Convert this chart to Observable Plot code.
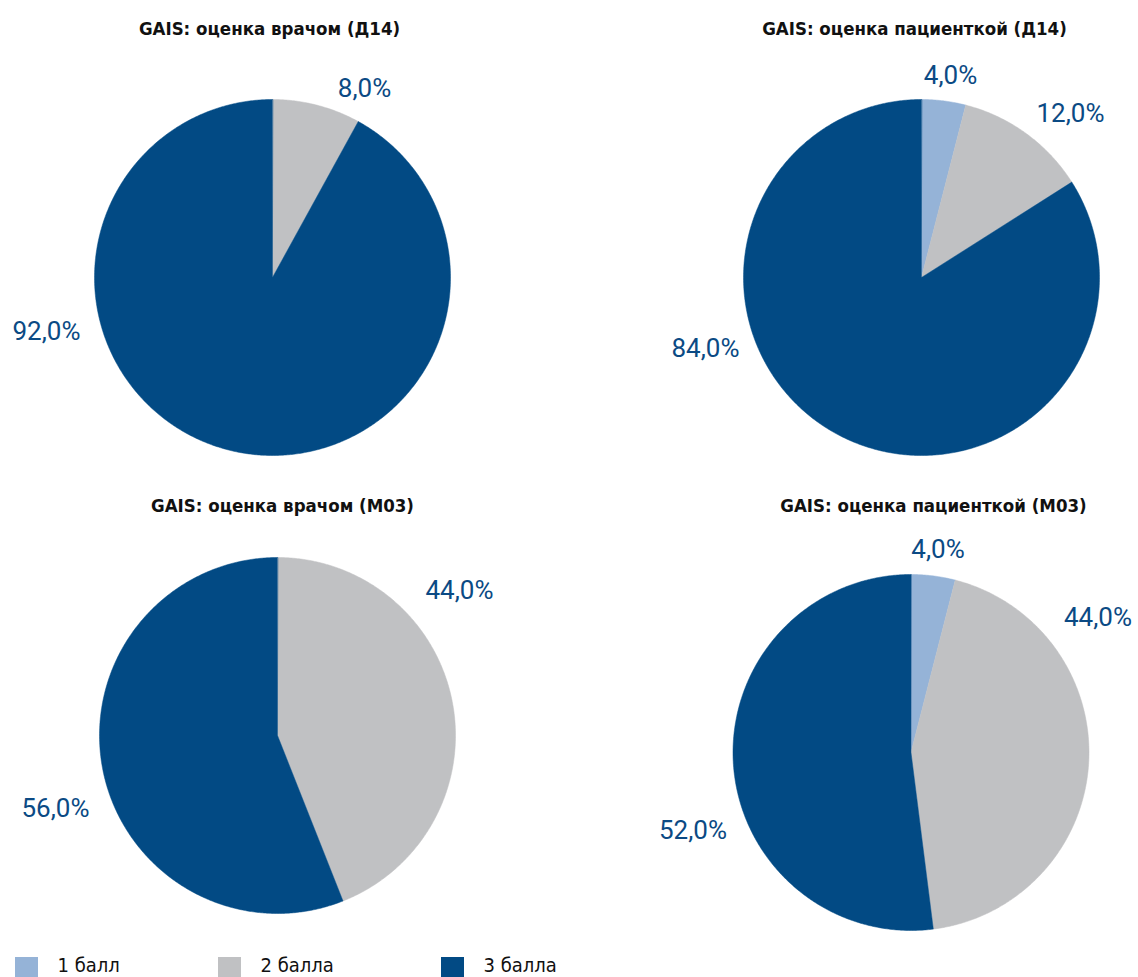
<!DOCTYPE html>
<html>
<head>
<meta charset="utf-8">
<script src="https://cdn.jsdelivr.net/npm/d3@7"></script>
<script src="https://cdn.jsdelivr.net/npm/@observablehq/plot@0.6"></script>
<style>
  html, body { margin: 0; padding: 0; background: #fff; }
  svg { display: block; }
</style>
</head>
<body>
<div id="chart"></div>
<script>
// ---- data ----
const categories = ["1 балл", "2 балла", "3 балла"];
const colors = ["#95b3d7", "#c0c1c3", "#024a84"];
const titles = [
  "GAIS: оценка врачом (Д14)",
  "GAIS: оценка пациенткой (Д14)",
  "GAIS: оценка врачом (М03)",
  "GAIS: оценка пациенткой (М03)"
];
const doctorD14 = [0, 8.0, 92.0];
const patientD14 = [4.0, 12.0, 84.0];
const doctorM03 = [0, 44.0, 56.0];
const patientM03 = [4.0, 44.0, 52.0];
const seriesValues = [doctorD14, patientD14, doctorM03, patientM03];

// ---- layout (pixels) ----
const W = 1138, H = 977, R = 178;
const centers = [[272, 277], [921, 277], [277, 735], [910.5, 752]];
const titlePos = [[269, 29], [914, 29], [282, 506], [933, 506]];
// label offsets from pie centre, per pie, per category
const labelOffsets = [
  [null, [92, -189], [-226, 54]],
  [[29, -202], [149, -164], [-216, 71]],
  [null, [182, -145], [-222, 73]],
  [[27, -203], [187, -135], [-218, 78]]
];
const legendX = [[15, 38, 57], [218, 241, 260], [441, 464, 483]];

// ---- build geometry ----
const slices = [];
const labels = [];
const pie = d3.pie().sort(null).value(d => d.value).startAngle(0).endAngle(2 * Math.PI);
seriesValues.forEach((vals, pi) => {
  const [cx, cy] = centers[pi];
  const arcs = pie(vals.map((v, i) => ({cat: categories[i], value: v, i})));
  arcs.forEach(a => {
    if (a.data.value <= 0) return;
    const key = pi + "-" + a.data.i;
    slices.push({key, cat: a.data.cat, x: cx, y: cy});
    const n = Math.max(2, Math.ceil((a.endAngle - a.startAngle) / (Math.PI / 360)));
    for (let k = 0; k <= n; k++) {
      const t = a.startAngle + (a.endAngle - a.startAngle) * k / n;
      slices.push({key, cat: a.data.cat, x: cx + R * Math.sin(t), y: cy - R * Math.cos(t)});
    }
    const off = labelOffsets[pi][a.data.i];
    labels.push({x: cx + off[0], y: cy + off[1], text: a.data.value.toFixed(1).replace(".", ",") + "%"});
  });
});

const titleData = titles.map((t, i) => ({text: t, x: titlePos[i][0], y: titlePos[i][1]}));
const legendData = categories.map((c, i) => ({cat: c, x1: legendX[i][0], x2: legendX[i][1], tx: legendX[i][2]}));

const chart = Plot.plot({
  width: W,
  height: H,
  margin: 0,
  style: {overflow: "visible", background: "#fff"},
  x: {domain: [0, W], range: [0, W], axis: null},
  y: {domain: [0, H], range: [0, H], axis: null},
  color: {domain: categories, range: colors},
  marks: [
    Plot.line(slices, {x: "x", y: "y", z: "key", fill: "cat", stroke: "cat", strokeWidth: 0.5, curve: "linear-closed"}),
    Plot.text(labels, {x: "x", y: "y", text: "text", fill: "#0b4a84", fontSize: 26, fontFamily: "Roboto, 'Liberation Sans', sans-serif", textAnchor: "middle", lineAnchor: "middle"}),
    Plot.text(titleData, {x: "x", y: "y", text: "text", fill: "#111", fontSize: 18.5, fontWeight: "bold", fontFamily: "'Liberation Sans Narrow', 'DejaVu Sans Condensed', 'Roboto Condensed', sans-serif", textAnchor: "middle", lineAnchor: "middle"}),
    Plot.rect(legendData, {x1: "x1", x2: "x2", y1: 957, y2: 980, fill: "cat"}),
    Plot.text(legendData, {x: "tx", y: 965, text: "cat", fill: "#111", fontSize: 20, fontFamily: "'Liberation Sans Narrow', 'DejaVu Sans Condensed', Roboto, sans-serif", textAnchor: "start", lineAnchor: "middle"})
  ]
});
document.getElementById("chart").appendChild(chart);
</script>
</body>
</html>
